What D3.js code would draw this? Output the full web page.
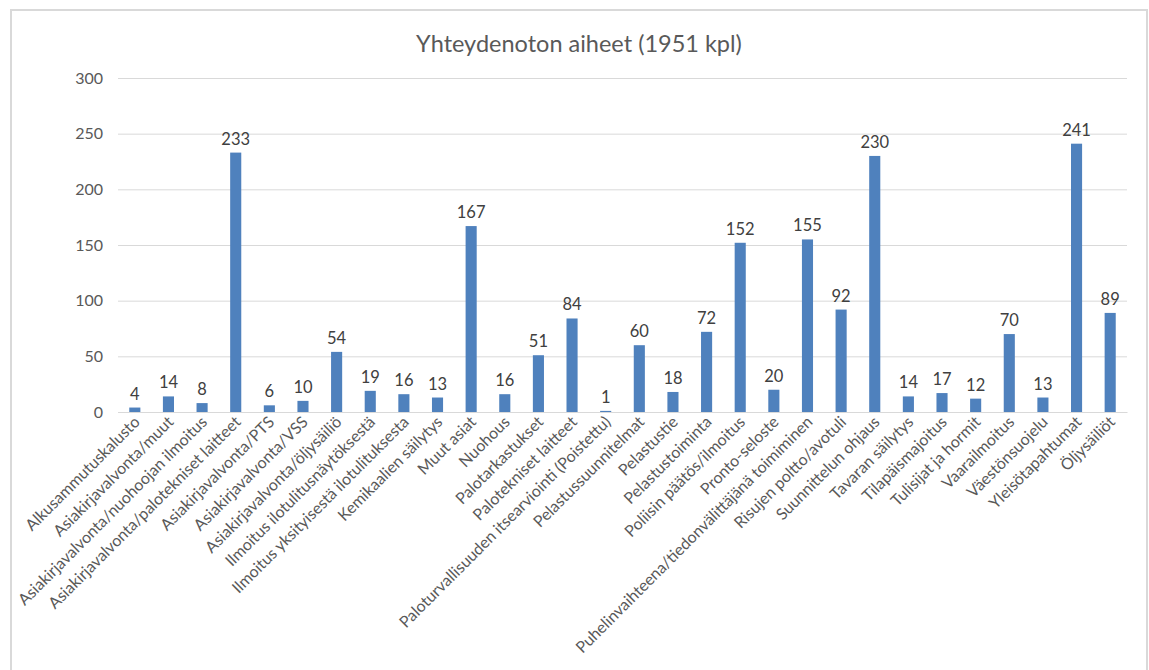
<!DOCTYPE html>
<html><head><meta charset="utf-8">
<script src="https://cdn.jsdelivr.net/npm/d3@7/dist/d3.min.js"></script>
<style>body{margin:0;background:#fff;} svg{display:block;}</style>
</head><body>
<svg id="c" width="1149" height="670"></svg>
<script>
const categories = ["Alkusammutuskalusto","Asiakirjavalvonta/muut","Asiakirjavalvonta/nuohoojan ilmoitus","Asiakirjavalvonta/palotekniset laitteet","Asiakirjavalvonta/PTS","Asiakirjavalvonta/VSS","Asiakirjavalvonta/öljysäiliö","Ilmoitus ilotulitusnäytöksestä","Ilmoitus yksityisestä ilotulituksesta","Kemikaalien säilytys","Muut asiat","Nuohous","Palotarkastukset","Palotekniset laitteet","Paloturvallisuuden itsearviointi (Poistettu)","Pelastussuunnitelmat","Pelastustie","Pelastustoiminta","Poliisin päätös/ilmoitus","Pronto-seloste","Puhelinvaihteena/tiedonvälittäjänä toimiminen","Risujen poltto/avotuli","Suunnittelun ohjaus","Tavaran säilytys","Tilapäismajoitus","Tulisijat ja hormit","Vaarailmoitus","Väestönsuojelu","Yleisötapahtumat","Öljysäiliöt"];
const values = [4,14,8,233,6,10,54,19,16,13,167,16,51,84,1,60,18,72,152,20,155,92,230,14,17,12,70,13,241,89];
const yTicks = [0,50,100,150,200,250,300];
const title = "Yhteydenoton aiheet (1951 kpl)";

const svg = d3.select("#c");
const font = "Lato, Carlito, Calibri, sans-serif";
const pLeft = 118, pRight = 1127, pTop = 78, pBottom = 412;

// frame
svg.append("path").attr("d","M11,680 V10 H1147 V680").attr("fill","none").attr("stroke","#d9d9d9").attr("stroke-width",2);

const x = d3.scaleBand().domain(categories).range([pLeft,pRight]).paddingInner(0.67).paddingOuter(0.335);
const y = d3.scaleLinear().domain([0,300]).range([pBottom,pTop]);

svg.append("text").attr("x",579).attr("y",52).attr("text-anchor","middle")
  .attr("font-family",font).attr("font-size",23.5).attr("fill","#595959").text(title);

// grid
const yAxis = d3.axisLeft(y).tickValues(yTicks).tickSize(-(pRight-pLeft)).tickPadding(15);
const ga = svg.append("g").attr("transform",`translate(${pLeft},0)`).call(yAxis);
ga.select(".domain").remove();
ga.selectAll(".tick line").attr("stroke","#d9d9d9").attr("stroke-width",1);
ga.selectAll(".tick text").attr("font-family",font).attr("font-size",16).attr("fill","#595959");

// bars
svg.append("g").selectAll("rect").data(values).join("rect")
  .attr("x",(d,i)=>x(categories[i])).attr("width",x.bandwidth())
  .attr("y",d=>y(d)).attr("height",d=>pBottom-y(d)).attr("fill","#4f81bd");

// data labels
svg.append("g").selectAll("text").data(values).join("text")
  .attr("x",(d,i)=>x(categories[i])+x.bandwidth()/2).attr("y",d=>y(d)-8)
  .attr("text-anchor","middle").attr("font-family",font).attr("font-size",16.5).attr("fill","#404040").text(d=>d);

// x axis
const xAxis = d3.axisBottom(x).tickSize(0).tickPadding(0);
const gx = svg.append("g").attr("transform",`translate(0,${pBottom})`).call(xAxis);
gx.select(".domain").attr("stroke","#d9d9d9");
gx.selectAll(".tick text").attr("font-family",font).attr("font-size",16).attr("fill","#595959")
  .attr("text-anchor","end").attr("dy",0).attr("transform","translate(6,11) rotate(-45)");
</script>
</body></html>
